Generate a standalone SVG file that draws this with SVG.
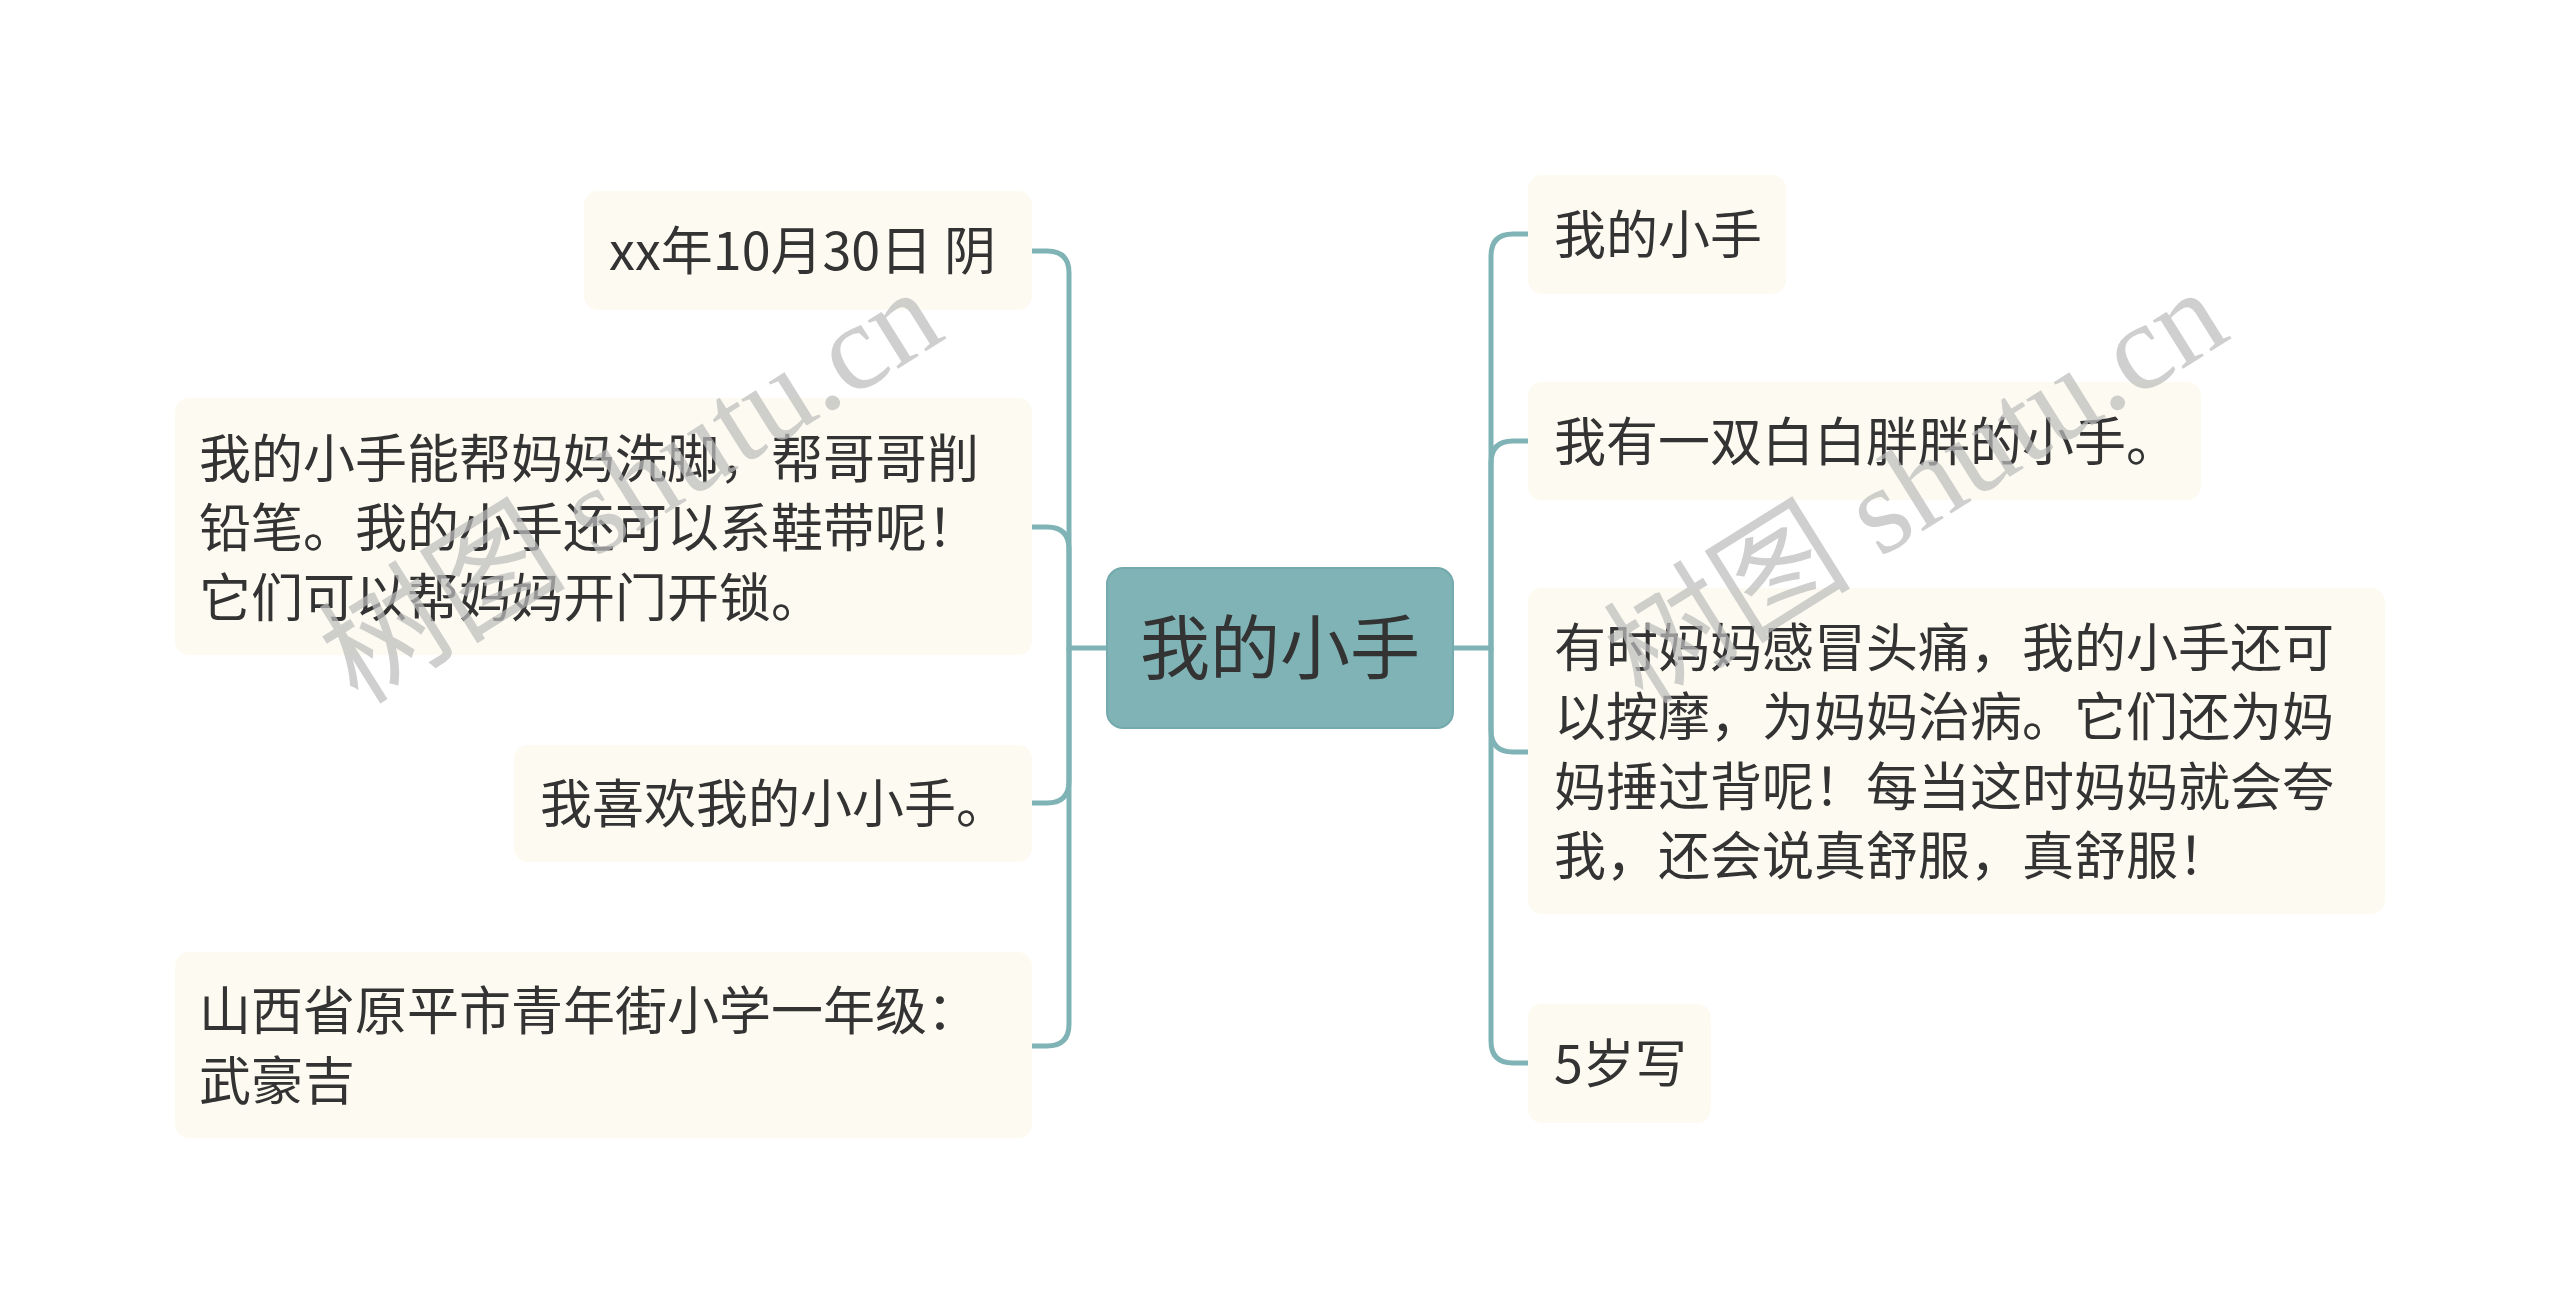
<svg xmlns="http://www.w3.org/2000/svg" width="2560" height="1315" viewBox="0 0 2560 1315">
<style>
.leaf{fill:#fdfbf1;}
.t{font-family:"Noto Sans CJK SC","Noto Sans",sans-serif;font-size:52px;fill:#333333;}
.ct{font-family:"Noto Sans CJK SC","Noto Sans",sans-serif;font-size:70px;fill:#333333;}
.conn{fill:none;stroke:#7fb3b5;stroke-width:5;}
.wm{font-family:"Liberation Serif","Noto Sans CJK SC",serif;font-size:124px;fill:#bdbdbd;opacity:0.72;}
</style>
<rect width="2560" height="1315" fill="#ffffff"/>
<g id="connectors">
<path class="conn" d="M1107 648 H1069 V273 Q1069 251 1047 251 H1032"/>
<path class="conn" d="M1069 648 V549 Q1069 527 1047 527 H1032"/>
<path class="conn" d="M1069 648 V781 Q1069 803 1047 803 H1032"/>
<path class="conn" d="M1069 648 V1024 Q1069 1046 1047 1046 H1032"/>
<path class="conn" d="M1453 648 H1491 V256 Q1491 234 1513 234 H1528"/>
<path class="conn" d="M1491 648 V463 Q1491 441 1513 441 H1528"/>
<path class="conn" d="M1491 648 V730 Q1491 752 1513 752 H1528"/>
<path class="conn" d="M1491 648 V1041 Q1491 1063 1513 1063 H1528"/>
</g>
<g id="center">
<rect x="1107" y="568" width="346" height="160" rx="16" fill="#7fb3b5" stroke="#74aaad" stroke-width="2"/>
<text class="ct" x="1280" y="674" text-anchor="middle">我的小手</text>
</g>
<g id="left1">
<rect class="leaf" x="584" y="191" width="448" height="119" rx="14"/>
<text class="t" x="609" y="270">xx年10月30日 阴</text>
</g>
<g id="left2">
<rect class="leaf" x="175" y="398" width="857" height="257" rx="14"/>
<text class="t" x="199" y="478">我的小手能帮妈妈洗脚，帮哥哥削</text>
<text class="t" x="199" y="547">铅笔。我的小手还可以系鞋带呢！</text>
<text class="t" x="199" y="617">它们可以帮妈妈开门开锁。</text>
</g>
<g id="left3">
<rect class="leaf" x="514" y="745" width="518" height="117" rx="14"/>
<text class="t" x="540" y="823">我喜欢我的小小手。</text>
</g>
<g id="left4">
<rect class="leaf" x="175" y="952" width="857" height="186" rx="14"/>
<text class="t" x="199" y="1030">山西省原平市青年街小学一年级：</text>
<text class="t" x="199" y="1100">武豪吉</text>
</g>
<g id="right1">
<rect class="leaf" x="1528" y="175" width="258" height="119" rx="14"/>
<text class="t" x="1554" y="254">我的小手</text>
</g>
<g id="right2">
<rect class="leaf" x="1528" y="382" width="673" height="118" rx="14"/>
<text class="t" x="1554" y="461">我有一双白白胖胖的小手。</text>
</g>
<g id="right3">
<rect class="leaf" x="1528" y="588" width="857" height="326" rx="14"/>
<text class="t" x="1554" y="667">有时妈妈感冒头痛，我的小手还可</text>
<text class="t" x="1554" y="736">以按摩，为妈妈治病。它们还为妈</text>
<text class="t" x="1554" y="806">妈捶过背呢！每当这时妈妈就会夸</text>
<text class="t" x="1554" y="875">我，还会说真舒服，真舒服！</text>
</g>
<g id="right4">
<rect class="leaf" x="1528" y="1004" width="183" height="119" rx="14"/>
<text class="t" x="1554" y="1083">5岁写</text>
</g>
<g id="watermarks">
<text class="wm" x="358" y="706" transform="rotate(-32 358 706)">树图 shutu.cn</text>
<text class="wm" x="1643" y="706" transform="rotate(-32 1643 706)">树图 shutu.cn</text>
</g>
</svg>
